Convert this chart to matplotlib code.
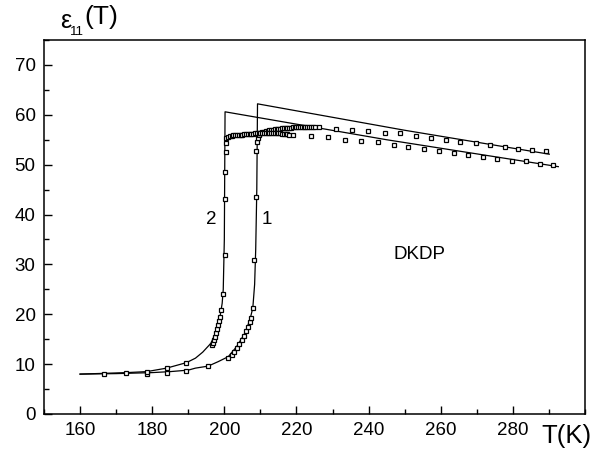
import matplotlib
matplotlib.use("Agg")
import matplotlib.pyplot as plt
from matplotlib.ticker import MultipleLocator

plt.rcParams['font.family'] = ['Liberation Sans', 'DejaVu Sans']

# theoretical lines
line1_T = [160, 170, 180, 185, 190, 192, 195.5, 198.3, 201.1, 203.4, 205.7, 207.1, 207.9, 208.4, 208.7, 209.0, 209.2, 250.0, 290.1]
line1_v = [8.0, 8.1, 8.3, 8.5, 8.8, 9.2, 9.6, 10.5, 11.5, 13.5, 16.2, 18.9, 21.3, 26.0, 33.0, 45.0, 62.2, 56.9, 52.1]

line2_T = [160, 172.9, 178.5, 184.0, 186.5, 189.5, 192.0, 194.0, 196.3, 197.9, 198.8, 199.4, 199.7, 200.0, 200.2, 245.0, 292.6]
line2_v = [8.0, 8.3, 8.5, 9.2, 9.7, 10.3, 11.2, 12.4, 14.2, 16.8, 19.5, 22.2, 25.0, 35.0, 60.6, 55.0, 49.6]

# experimental points, curve 1
exp1_T = [178.6, 184.0, 189.5, 195.5, 201.1, 202.0, 202.8, 203.5, 204.2, 204.8, 205.4, 206.0, 206.5, 207.0,
          207.4, 207.9, 208.3, 208.8, 208.8, 209.0, 209.2, 209.5,
          210, 210.5, 211, 211.5, 212, 212.5, 213, 213.5, 214, 214.5, 215, 215.5, 216, 216.5, 217, 217.5,
          218, 218.5, 219, 219.5, 220, 220.5, 221, 221.5, 222, 222.5, 223, 223.5, 224, 224.5, 225,
          226.2, 231.0, 235.4, 239.9, 244.6, 248.7, 253.1, 257.3, 261.4,
          265.4, 269.7, 273.6, 277.7, 281.5, 285.4, 289.1]
exp1_v = [8.0, 8.2, 8.7, 9.6, 11.2, 11.8, 12.4, 13.2, 14.0, 14.8, 15.7, 16.6, 17.5, 18.5,
          19.3, 21.2, 30.9, 43.6, 52.7, 54.5, 55.3, 56.0,
          56.4, 56.5, 56.6, 56.7, 56.8, 56.9, 57.0, 57.05, 57.1, 57.15, 57.2, 57.25, 57.3, 57.35, 57.4, 57.4,
          57.4, 57.45, 57.5, 57.55, 57.6, 57.6, 57.6, 57.6, 57.6, 57.6, 57.6, 57.6, 57.6, 57.55, 57.5,
          57.5, 57.2, 57.0, 56.8, 56.4, 56.3, 55.8, 55.4, 55.0,
          54.6, 54.3, 54.0, 53.5, 53.1, 52.9, 52.7]

# experimental points, curve 2
exp2_T = [166.7, 172.6, 178.6, 184.0, 189.5, 196.5, 196.8, 197.1, 197.4, 197.7, 198.0, 198.3, 198.6, 198.8,
          199.1, 199.5, 200.2, 200.3, 200.3, 200.4, 200.5, 200.6,
          201, 201.5, 202, 202.5, 203, 203.5, 204, 204.5, 205, 205.5, 206, 206.5, 207, 207.5, 208, 208.5,
          209, 209.5, 210, 210.5, 211, 211.5, 212, 212.5, 213, 213.5, 214, 214.5, 215, 215.5, 216, 216.5,
          217, 217.5, 218,
          219.1, 223.9, 228.7, 233.4, 238.0, 242.5, 247.0, 251.0,
          255.4, 259.6, 263.8, 267.6, 271.7, 275.7, 279.7, 283.6, 287.4, 291.2]
exp2_v = [8.0, 8.3, 8.4, 9.2, 10.3, 13.8, 14.2, 14.8, 15.5, 16.2, 17.0, 17.8, 18.6, 19.5,
          20.9, 24.1, 31.9, 43.1, 48.6, 52.5, 54.4, 55.3,
          55.6, 55.7, 55.8, 55.85, 55.9, 55.95, 56.0, 56.0, 56.0, 56.05, 56.1, 56.15, 56.2, 56.2, 56.2, 56.25,
          56.3, 56.3, 56.3, 56.35, 56.4, 56.4, 56.4, 56.4, 56.4, 56.4, 56.4, 56.35, 56.3, 56.25, 56.2, 56.15,
          56.1, 56.05, 56.0,
          56.0, 55.7, 55.5, 55.0, 54.7, 54.5, 54.0, 53.5,
          53.1, 52.7, 52.3, 51.9, 51.6, 51.1, 50.8, 50.7, 50.1, 49.9]

x_ticks = [160, 180, 200, 220, 240, 260, 280]
y_ticks = [0, 10, 20, 30, 40, 50, 60, 70]

fig = plt.figure(figsize=(6.08, 4.5), dpi=100)
ax = fig.add_axes([44/608, 36/450, 541/608, 374/450])

ax.plot(line1_T, line1_v, color='black', lw=0.9, zorder=2)
ax.plot(line2_T, line2_v, color='black', lw=0.9, zorder=2)
ax.plot(exp1_T, exp1_v, ls='none', marker='s', ms=3.5, mfc='white', mec='black', mew=0.9, zorder=3)
ax.plot(exp2_T, exp2_v, ls='none', marker='s', ms=3.5, mfc='white', mec='black', mew=0.9, zorder=3)

ax.set_xlim(150, 300)
ax.set_ylim(0, 75)
ax.set_xticks(x_ticks)
ax.set_yticks(y_ticks)
ax.xaxis.set_minor_locator(MultipleLocator(10))
ax.yaxis.set_minor_locator(MultipleLocator(5))
ax.tick_params(which='both', direction='in', top=False, right=False, width=1.0, labelsize=13.5, pad=6)
ax.tick_params(which='major', length=6)
ax.tick_params(which='minor', length=3.5)
for s in ax.spines.values():
    s.set_linewidth(1.1)

ax.text(196.5, 39, '2', fontsize=13.5, ha='center', va='center')
ax.text(211.8, 39, '1', fontsize=13.5, ha='center', va='center')
ax.text(254.2, 31.9, 'DKDP', fontsize=13.5, ha='center', va='center')

fig.text(566/608, 1 - 436/450, 'T(K)', fontsize=18.5, ha='center', va='center')
fig.text(66/608, 1 - 21/450, 'ε', fontsize=18, ha='center', va='center')
fig.text(77/608, 1 - 32/450, '11', fontsize=9.5, ha='center', va='center')
fig.text(101/608, 1 - 17/450, '(T)', fontsize=19, ha='center', va='center')

fig.savefig('out.png', dpi=100)
